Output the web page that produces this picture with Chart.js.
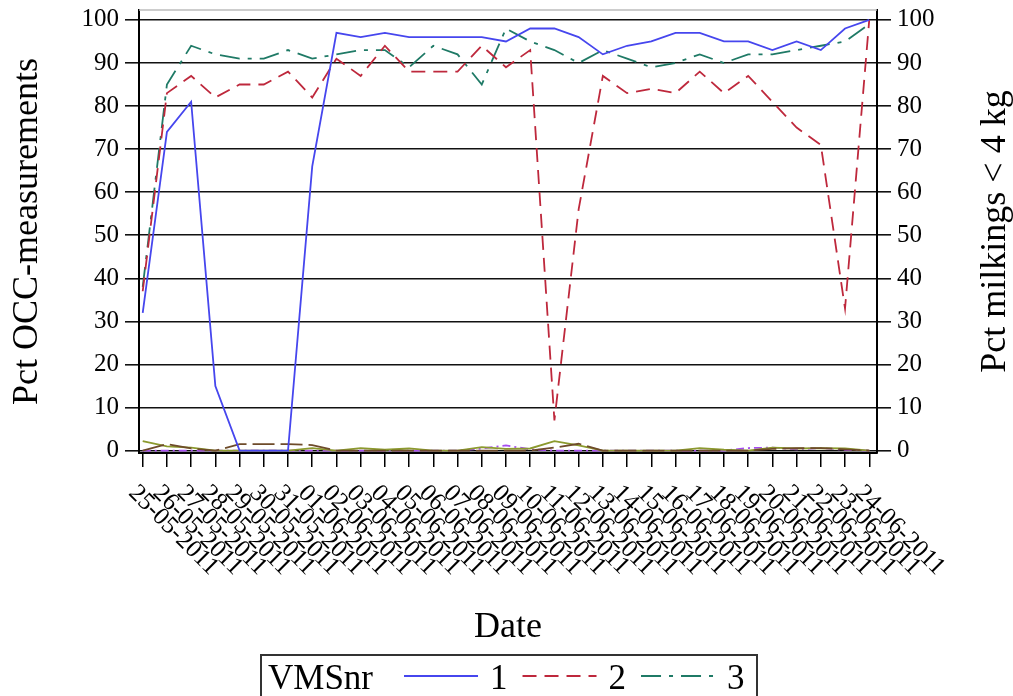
<!DOCTYPE html>
<html><head><meta charset="utf-8">
<script src="https://cdn.jsdelivr.net/npm/chart.js@4"></script>
<style>html,body{margin:0;padding:0;background:#fff;}#wrap{width:1013px;height:696px;}</style>
</head><body><div id="wrap"><canvas id="c" width="1013" height="696"></canvas></div>
<script>
const dates = ['25-05-2011','26-05-2011','27-05-2011','28-05-2011','29-05-2011','30-05-2011','31-05-2011',
  '01-06-2011','02-06-2011','03-06-2011','04-06-2011','05-06-2011','06-06-2011','07-06-2011','08-06-2011',
  '09-06-2011','10-06-2011','11-06-2011','12-06-2011','13-06-2011','14-06-2011','15-06-2011','16-06-2011',
  '17-06-2011','18-06-2011','19-06-2011','20-06-2011','21-06-2011','22-06-2011','23-06-2011','24-06-2011'];
const occ1 = [32,74,81,15,0,0,0,66,97,96,97,96,96,96,96,95,98,98,96,92,94,95,97,97,95,95,93,95,93,98,100];
const occ2 = [37,83,87,82,85,85,88,82,91,87,94,88,88,88,94,89,93,7,56,87,83,84,83,88,83,87,81,75,71,33,100];
const occ3 = [38,85,94,92,91,91,93,91,92,93,93,89,94,92,85,98,95,93,90,93,91,89,90,92,90,92,92,93,94,95,99];
const milk1 = [0,1.5,0.5,0,1.5,1.5,1.5,1.3,0,0,0,0,0,0,0,0,0,0.7,1.6,0,0,0,0,0,0,0,0.4,0.6,0.6,0.3,0];
const milk2 = [2.2,1,0.7,0,0,0,0,0.6,0,0.6,0.2,0.5,0,0,0.8,0.4,0.5,2.2,1.2,0,0,0,0,0.6,0.2,0,0.7,0.5,0.6,0.5,0];
const milk3 = [0,0,0,0,0,0,0,0,0,0,0,0,0,0,0.5,1.2,0.3,0,0,0,0,0,0,0,0,0.6,0.7,0.3,0.6,0.2,0];
const yTicks = [0,10,20,30,40,50,60,70,80,90,100];
const seriesNames = ['1','2','3'];
const legendTitle = 'VMSnr';
const xTitle = 'Date';
const yTitle = 'Pct OCC-measurements';
const y1Title = 'Pct milkings < 4 kg';

const FONT = "'Liberation Serif','Times New Roman',serif";
Chart.defaults.font.family = FONT;
function pts(arr){ return arr.map((v,i)=>({x:i,y:v})); }

const datasets = [
  {label:seriesNames[0], data:pts(occ1), borderColor:'#4646ee', borderWidth:1.8, yAxisID:'y', inLegend:true},
  {label:seriesNames[1], data:pts(occ2), borderColor:'#be283c', borderWidth:1.8, borderDash:[14,8], yAxisID:'y', inLegend:true},
  {label:seriesNames[2], data:pts(occ3), borderColor:'#1f7a66', borderWidth:1.8, borderDash:[20,8,4,8], yAxisID:'y', inLegend:true},
  {label:'m1', data:pts(milk1), borderColor:'#6e4b2a', borderWidth:1.8, borderDash:[22,6], yAxisID:'y1'},
  {label:'m2', data:pts(milk2), borderColor:'#8c9a2e', borderWidth:1.8, yAxisID:'y1'},
  {label:'m3', data:pts(milk3), borderColor:'#a64df0', borderWidth:1.8, borderDash:[8,4,2,4], yAxisID:'y1'}
];

const decor = {
  id:'decor',
  afterDraw(chart){
    const ctx = chart.ctx, ca = chart.chartArea;
    ctx.save();
    ctx.strokeStyle = '#bdbdbd'; ctx.lineWidth = 1.5;
    ctx.beginPath(); ctx.moveTo(ca.left, ca.top); ctx.lineTo(ca.right, ca.top); ctx.stroke();
    ctx.fillStyle = '#000';
    const xs = chart.scales.x;
    ctx.font = '25px ' + FONT; ctx.textAlign = 'left'; ctx.textBaseline = 'alphabetic';
    dates.forEach((d,i)=>{
      const px = xs.getPixelForValue(i);
      ctx.save(); ctx.translate(px - 15, 494); ctx.rotate(Math.PI/4); ctx.fillText(d, 0, 0); ctx.restore();
    });
    const cy = (ca.top + ca.bottom)/2;
    ctx.font = '36px ' + FONT; ctx.textAlign = 'center'; ctx.textBaseline = 'middle';
    ctx.save(); ctx.translate(28, cy); ctx.rotate(-Math.PI/2); ctx.fillText(yTitle, 0, 0); ctx.restore();
    ctx.save(); ctx.translate(996, cy); ctx.rotate(-Math.PI/2); ctx.fillText(y1Title, 0, 0); ctx.restore();
    ctx.textBaseline = 'alphabetic';
    ctx.fillText(xTitle, (ca.left + ca.right)/2, 637);
    ctx.strokeStyle = '#333'; ctx.lineWidth = 2;
    ctx.strokeRect(261, 655, 496, 60);
    ctx.font = '35px ' + FONT; ctx.textAlign = 'left'; ctx.textBaseline = 'alphabetic';
    let x = 268; const by = 689, ly = 676;
    ctx.fillText(legendTitle, x, by);
    x += ctx.measureText(legendTitle).width + 31;
    chart.data.datasets.filter(d=>d.inLegend).forEach(d=>{
      ctx.strokeStyle = d.borderColor; ctx.lineWidth = d.borderWidth; ctx.setLineDash(d.borderDash || []);
      ctx.beginPath(); ctx.moveTo(x, ly); ctx.lineTo(x + 74, ly); ctx.stroke(); ctx.setLineDash([]);
      x += 86; ctx.fillText(d.label, x, by); x += ctx.measureText(d.label).width + 15;
    });
    ctx.restore();
  }
};

function zeroPad(s){ s.paddingTop = 0; s.paddingBottom = 0; s.paddingLeft = 0; s.paddingRight = 0; }

const yAxisCommon = {
  min:-0.55, max:102.3,
  afterBuildTicks: s => { s.ticks = yTicks.map(v=>({value:v})); },
  ticks:{font:{family:FONT, size:25}, color:'#000', padding:6, callback:v=>String(v)},
  border:{display:true, color:'#000', width:2}
};

new Chart(document.getElementById('c'), {
  type:'line',
  data:{datasets},
  options:{
    responsive:false, animation:false, devicePixelRatio:1,
    layout:{autoPadding:false, padding:{top:10, left:0, right:0, bottom:0}},
    elements:{point:{radius:0}, line:{tension:0, fill:false}},
    plugins:{legend:{display:false}, tooltip:{enabled:false}},
    scales:{
      x:{type:'linear', position:'bottom', min:-0.153, max:30.32,
        afterBuildTicks: s => { s.ticks = dates.map((d,i)=>({value:i})); },
        ticks:{display:false},
        grid:{drawOnChartArea:false, drawTicks:true, tickLength:14, color:'#000', lineWidth:1.5},
        border:{display:true, color:'#000', width:2},
        afterFit: s => { s.height = 243; zeroPad(s); }
      },
      y:Object.assign({}, yAxisCommon, {position:'left',
        grid:{color:'#111', lineWidth:1.6, drawTicks:true, tickLength:14},
        afterFit: s => { s.width = 139; zeroPad(s); }}),
      y1:Object.assign({}, yAxisCommon, {position:'right',
        grid:{drawOnChartArea:false, color:'#111', lineWidth:1.6, drawTicks:true, tickLength:14},
        afterFit: s => { s.width = 136; zeroPad(s); }})
    }
  },
  plugins:[decor]
});
</script>
</body></html>
